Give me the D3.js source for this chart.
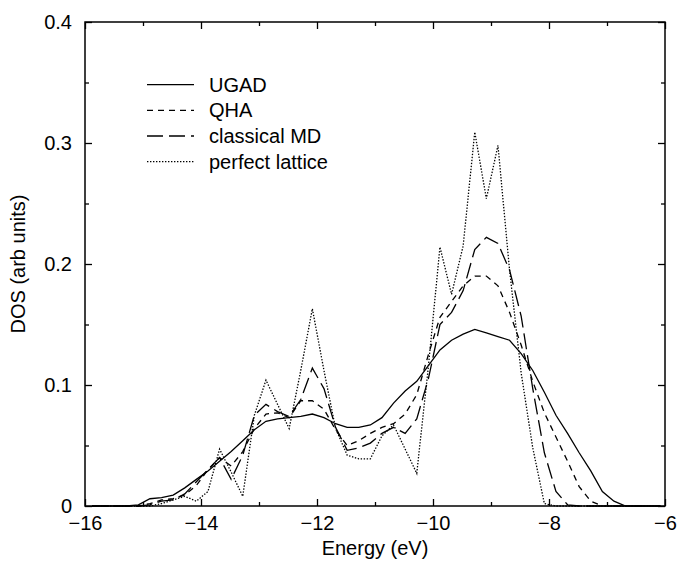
<!DOCTYPE html>
<html>
<head>
<meta charset="utf-8">
<script src="https://cdn.jsdelivr.net/npm/d3@7"></script>
<style>
  body { margin: 0; background: #fff; }
  text { font-family: "Liberation Sans", Arial, Helvetica, sans-serif; fill: #000; }
</style>
</head>
<body>
<div id="d3-container"></div>
<script>
/* DATA */
const energy = [-15.88, -15.68, -15.48, -15.28, -15.08, -14.88, -14.68, -14.48, -14.28, -14.08,
  -13.88, -13.68, -13.48, -13.28, -13.08, -12.88, -12.68, -12.48, -12.28, -12.08,
  -11.88, -11.68, -11.48, -11.28, -11.08, -10.88, -10.68, -10.48, -10.28, -10.08,
  -9.88, -9.68, -9.48, -9.28, -9.08, -8.88, -8.68, -8.48, -8.28, -8.08,
  -7.88, -7.68, -7.48, -7.28, -7.08, -6.88, -6.68, -6.48, -6.28, -6.08];

const ugad = [0, 0, 0, 0, 0.001, 0.006, 0.007, 0.009, 0.015, 0.022,
  0.029, 0.037, 0.045, 0.054, 0.063, 0.070, 0.072, 0.073, 0.074, 0.076,
  0.073, 0.068, 0.065, 0.065, 0.067, 0.073, 0.085, 0.095, 0.103, 0.116,
  0.129, 0.137, 0.142, 0.146, 0.143, 0.140, 0.137, 0.126, 0.112, 0.094,
  0.075, 0.060, 0.044, 0.029, 0.012, 0.004, 0, 0, 0, 0];

const qha = [0, 0, 0, 0, 0, 0.002, 0.005, 0.006, 0.009, 0.017,
  0.030, 0.040, 0.033, 0.045, 0.064, 0.076, 0.077, 0.073, 0.087, 0.087,
  0.080, 0.063, 0.050, 0.054, 0.060, 0.065, 0.068, 0.076, 0.092, 0.125,
  0.156, 0.169, 0.182, 0.190, 0.190, 0.182, 0.160, 0.133, 0.103, 0.077,
  0.057, 0.037, 0.016, 0.004, 0, 0, 0, 0, 0, 0];

const classicalMD = [0, 0, 0, 0, 0, 0.001, 0.004, 0.005, 0.010, 0.020,
  0.030, 0.040, 0.022, 0.042, 0.075, 0.084, 0.078, 0.074, 0.088, 0.114,
  0.097, 0.065, 0.046, 0.048, 0.052, 0.060, 0.065, 0.060, 0.072, 0.105,
  0.150, 0.160, 0.178, 0.212, 0.222, 0.217, 0.195, 0.157, 0.097, 0.044,
  0.012, 0.001, 0, 0, 0, 0, 0, 0, 0, 0];

const perfectLattice = [0, 0, 0, 0, 0, 0, 0.002, 0.005, 0.008, 0.004,
  0.012, 0.047, 0.028, 0.008, 0.075, 0.104, 0.084, 0.064, 0.112, 0.163,
  0.112, 0.064, 0.042, 0.039, 0.039, 0.058, 0.067, 0.047, 0.027, 0.115,
  0.214, 0.175, 0.215, 0.309, 0.254, 0.298, 0.195, 0.110, 0.048, 0.002,
  0, 0, 0, 0, 0, 0, 0, 0, 0, 0];

const seriesNames = ["UGAD", "QHA", "classical MD", "perfect lattice"];
const xMajorTicks = [-16, -14, -12, -10, -8, -6];
const xMinorTicks = [-15, -13, -11, -9, -7];
const yMajorTicks = [0, 0.1, 0.2, 0.3, 0.4];
const yMinorTicks = [0.05, 0.15, 0.25, 0.35];
const yTickLabels = ["0", "0.1", "0.2", "0.3", "0.4"];

/* CONSTANTS */
const width = 679,
  height = 565,
  margin = { top: 22, bottom: 59, left: 85, right: 14 };

// line styles per series (solid, short dash, long dash, dots)
const dashes = [null, "6,5", "16,6", "1.4,1.6"];

const svg = d3.select("#d3-container")
  .append("svg")
  .attr("width", width)
  .attr("height", height);

// + SCALES
const xScale = d3.scaleLinear()
  .domain([-16, -6])
  .range([margin.left, width - margin.right]);

const yScale = d3.scaleLinear()
  .domain([0, 0.4])
  .range([height - margin.bottom, margin.top]);

// + AXES (ticks point inward on all four sides)
const x0 = xScale(-16), x1 = xScale(-6), y0 = yScale(0), y1 = yScale(0.4);

function tickGroup(axis, transform) {
  const g = svg.append("g")
    .attr("transform", transform)
    .call(axis);
  g.select(".domain").remove();
  g.selectAll(".tick line").attr("stroke", "#000").attr("stroke-width", 1.3);
  g.selectAll("text").attr("font-size", 20).attr("fill", "#000");
  return g;
}

tickGroup(d3.axisBottom(xScale).tickValues(xMajorTicks).tickSize(-7).tickPadding(10), `translate(0,${y0})`);
tickGroup(d3.axisBottom(xScale).tickValues(xMinorTicks).tickSize(-4).tickFormat(""), `translate(0,${y0})`);
tickGroup(d3.axisTop(xScale).tickValues(xMajorTicks).tickSize(-7).tickFormat(""), `translate(0,${y1})`);
tickGroup(d3.axisTop(xScale).tickValues(xMinorTicks).tickSize(-4).tickFormat(""), `translate(0,${y1})`);

tickGroup(d3.axisLeft(yScale).tickValues(yMajorTicks).tickSize(-7).tickPadding(13)
  .tickFormat((d, i) => yTickLabels[i]), `translate(${x0},0)`);
tickGroup(d3.axisLeft(yScale).tickValues(yMinorTicks).tickSize(-4).tickFormat(""), `translate(${x0},0)`);
tickGroup(d3.axisRight(yScale).tickValues(yMajorTicks).tickSize(-7).tickFormat(""), `translate(${x1},0)`);
tickGroup(d3.axisRight(yScale).tickValues(yMinorTicks).tickSize(-4).tickFormat(""), `translate(${x1},0)`);

// frame
svg.append("rect")
  .attr("x", x0)
  .attr("y", y1)
  .attr("width", x1 - x0)
  .attr("height", y0 - y1)
  .attr("fill", "none")
  .attr("stroke", "#000")
  .attr("stroke-width", 1.5);

// axis labels
svg.append("text")
  .attr("x", (x0 + x1) / 2)
  .attr("y", 555)
  .attr("text-anchor", "middle")
  .attr("font-size", 20)
  .text("Energy (eV)");

svg.append("text")
  .attr("transform", `translate(25, ${(y0 + y1) / 2}) rotate(-90)`)
  .attr("text-anchor", "middle")
  .attr("font-size", 20)
  .text("DOS (arb units)");

// + LINES
const series = [ugad, qha, classicalMD, perfectLattice];

const lineGen = d3.line()
  .x((d, i) => xScale(energy[i]))
  .y(d => yScale(d));

svg.selectAll("path.dos")
  .data(series)
  .join("path")
  .attr("class", "dos")
  .attr("fill", "none")
  .attr("stroke", "#000")
  .attr("stroke-width", 1.3)
  .attr("stroke-dasharray", (d, i) => dashes[i])
  .attr("d", d => lineGen(d));

// + LEGEND
const legendY = [84.7, 110.3, 136, 161.7];

const legend = svg.selectAll("g.legend")
  .data(seriesNames)
  .join("g")
  .attr("class", "legend")
  .attr("transform", (d, i) => `translate(0, ${legendY[i]})`);

legend.append("line")
  .attr("x1", 147)
  .attr("x2", 194)
  .attr("stroke", "#000")
  .attr("stroke-width", 1.3)
  .attr("stroke-dasharray", (d, i) => dashes[i]);

legend.append("text")
  .attr("x", 209)
  .attr("y", 7)
  .attr("font-size", 20)
  .text(d => d);
</script>
</body>
</html>
